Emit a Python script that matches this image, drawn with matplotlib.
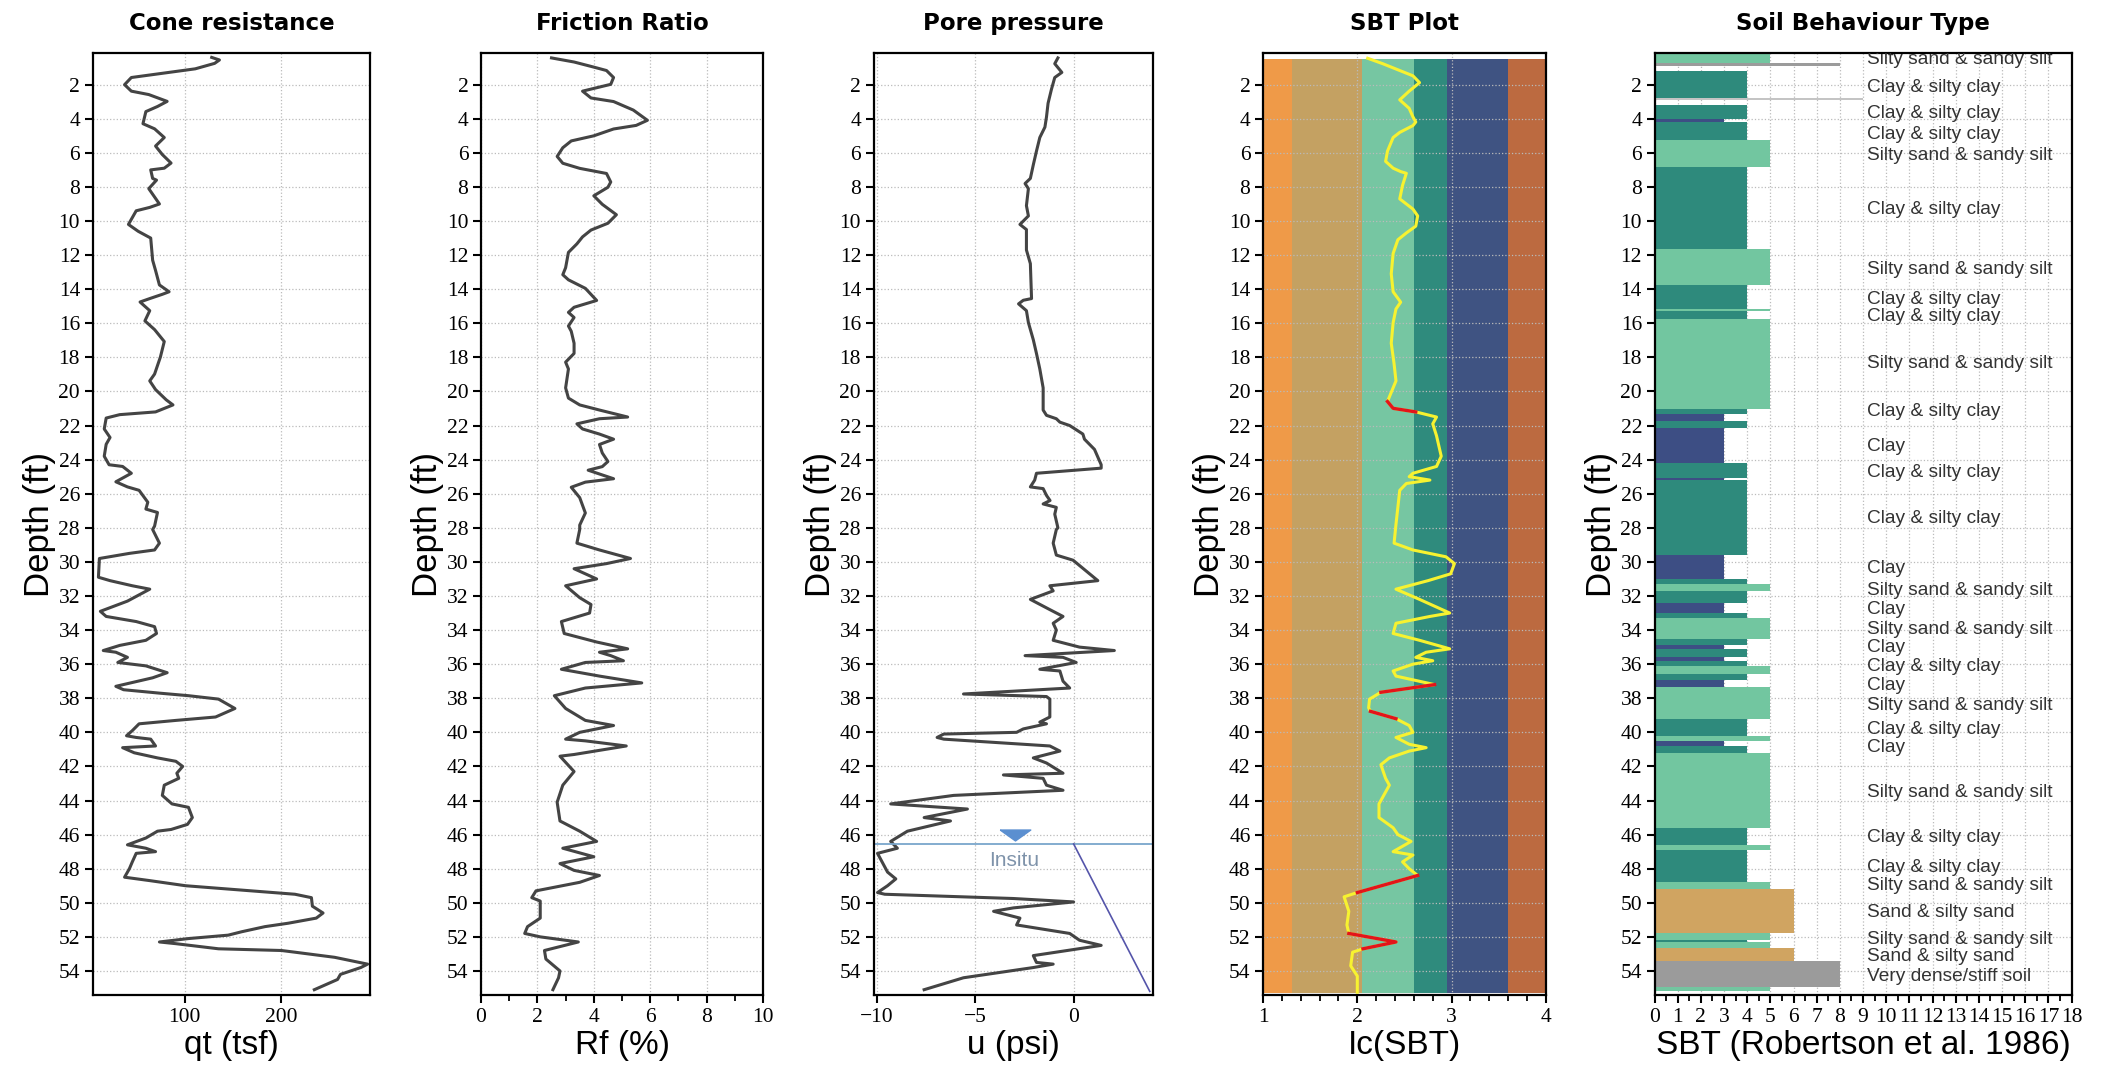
import numpy as np
import matplotlib
matplotlib.use('Agg')
import matplotlib.pyplot as plt
from matplotlib.ticker import MultipleLocator

# Cone resistance qt (tsf)
qt_depth = [0.40, 0.55, 0.75, 1.07, 1.58, 2.00, 2.38, 2.58, 2.98, 3.28, 3.58, 4.29, 4.59,
            5.10, 5.60, 6.10, 6.60, 6.90, 7.00, 7.50, 7.60, 8.10, 9.00, 9.20, 9.40, 9.80,
            10.2, 10.6, 11.0, 12.3, 12.9, 13.75, 14.15, 14.3, 14.55, 14.75, 15.26, 15.86,
            16.37, 17.07, 17.98, 18.98, 19.38, 19.89, 20.49, 20.79, 21.2, 21.36, 21.56,
            22.2, 22.7, 23.1, 23.8, 24.3, 24.4, 24.8, 25.3, 25.6, 25.8, 26.5, 26.9, 27.1,
            27.9, 28.1, 28.9, 29.3, 29.5, 29.8, 30.9, 31.1, 31.4, 31.6, 32.3, 32.9, 33.2,
            33.5, 33.8, 34.2, 34.6, 34.9, 35.2, 35.3, 35.6, 35.9, 36.1, 36.5, 36.8, 37.3,
            37.5, 37.7, 37.85, 38.05, 38.6, 39.1, 39.3, 39.5, 39.9, 40.2, 40.3, 40.4, 40.8,
            40.9, 41.2, 41.5, 41.7, 42.0, 42.4, 42.7, 43.1, 43.7, 44.2, 44.4, 45.0, 45.4,
            45.7, 45.8, 46.2, 46.6, 46.8, 47.0, 47.1, 47.6, 48.0, 48.5, 48.7, 49.0, 49.3,
            49.5, 49.7, 50.2, 50.6, 50.9, 51.2, 51.4, 51.7, 51.9, 52.1, 52.3, 52.4, 52.7,
            52.8, 52.9, 53.2, 53.6, 53.8, 54.2, 54.5, 55.1]
qt_value = [128, 136, 131, 111, 45, 38, 45, 63, 82, 72, 60, 57, 69,
            79, 70, 77, 86, 79, 65, 67, 71, 63, 74, 64, 50, 46,
            42, 52, 65, 67, 70, 74, 84, 77, 64, 54, 64, 59,
            69, 79, 75, 69, 64, 70, 81, 88, 70, 33, 19,
            17, 23, 19, 17, 22, 36, 45, 29, 41, 53, 62, 60, 72,
            69, 67, 74, 69, 43, 12, 11, 23, 46, 64, 41, 13, 19,
            50, 69, 71, 60, 33, 16, 29, 41, 31, 60, 82, 67, 29,
            37, 74, 104, 135, 152, 132, 91, 53, 46, 40, 50, 65, 70,
            36, 48, 72, 91, 98, 92, 94, 79, 77, 87, 104, 108, 103,
            86, 72, 60, 41, 60, 70, 50, 46, 43, 38, 64, 101, 169,
            214, 231, 232, 243, 236, 207, 183, 159, 145, 104, 74, 91, 135,
            200, 214, 255, 289, 282, 261, 258, 234]

# Friction ratio Rf (%)
rf_depth = [0.43, 0.67, 0.97, 1.17, 1.58, 1.98, 2.38, 2.78, 2.99, 3.49, 4.09, 4.39, 4.60,
            5.00, 5.30, 5.70, 6.21, 6.61, 6.91, 7.21, 7.71, 8.02, 8.52, 9.02, 9.63, 10.13,
            10.53, 10.93, 11.34, 11.84, 12.74, 13.15, 13.45, 13.95, 14.66, 14.86, 15.06,
            15.36, 15.66, 16.16, 16.47, 17.17, 17.77, 18.28, 18.68, 19.79, 20.39, 20.79,
            21.09, 21.50, 21.60, 21.90, 22.20, 22.50, 22.80, 23.11, 23.61, 24.11, 24.41,
            24.62, 25.12, 25.32, 25.62, 26.23, 27.13, 27.84, 28.1, 28.9, 29.3, 29.8, 30.1,
            30.4, 31.0, 31.4, 32.1, 32.5, 33.0, 33.5, 34.2, 34.7, 35.1, 35.3, 35.5, 35.8,
            35.9, 36.3, 36.7, 37.1, 37.4, 37.85, 38.6, 39.3, 39.6, 40.0, 40.4, 40.5, 40.8,
            41.3, 41.4, 42.3, 43.1, 44.1, 45.2, 45.8, 46.4, 46.8, 47.3, 47.7, 48.1, 48.4,
            48.8, 49.3, 49.7, 49.9, 50.9, 51.4, 51.8, 52.0, 52.3, 52.8, 53.3, 54.0, 54.4,
            55.1]
rf_value = [2.5, 3.3, 4.0, 4.45, 4.7, 4.6, 3.6, 3.9, 4.7, 5.4, 5.9, 5.5, 4.7,
            4.0, 3.2, 2.9, 2.7, 2.9, 3.5, 4.45, 4.6, 4.5, 4.0, 4.3, 4.8, 4.5,
            3.9, 3.6, 3.4, 3.1, 3.0, 2.9, 3.1, 3.7, 4.1, 3.7, 3.3,
            3.1, 3.3, 3.1, 3.2, 3.3, 3.3, 3.0, 3.1, 3.0, 3.1, 3.5,
            4.2, 5.2, 4.2, 3.4, 3.6, 4.2, 4.7, 4.2, 4.3, 4.5, 4.3,
            3.8, 4.7, 3.7, 3.2, 3.5, 3.7, 3.5, 3.5, 3.4, 4.2, 5.3, 4.45,
            3.3, 4.1, 3.0, 3.5, 3.9, 3.85, 2.85, 2.95, 4.1, 5.2, 4.2, 4.6, 5.05,
            3.7, 2.85, 4.2, 5.7, 3.7, 2.6, 3.0, 3.7, 4.7, 3.5, 3.0, 3.7, 5.15,
            3.3, 2.8, 3.3, 2.9, 2.7, 2.8, 3.5, 4.1, 2.9, 4.0, 2.8, 3.3, 4.2,
            3.5, 1.95, 1.8, 2.1, 2.1, 1.65, 1.55, 2.1, 3.45, 2.25, 2.3, 2.8, 2.75,
            2.55]

# Pore pressure u (psi)
u_depth = [0.43, 0.77, 1.28, 1.58, 2.28, 3.09, 3.89, 4.49, 5.10, 5.90, 6.70, 7.50, 7.80,
           8.10, 9.10, 9.70, 10.2, 10.5, 11.7, 12.5, 14.55, 14.65, 14.86, 15.26, 15.96,
           16.97, 17.77, 18.68, 19.79, 21.09, 21.4, 21.6, 21.8, 22.0, 22.5, 22.8, 23.4,
           24.3, 24.5, 24.8, 25.2, 25.6, 25.7, 26.1, 26.4, 26.6, 26.8, 27.2, 28.0, 28.1,
           28.9, 29.6, 29.9, 31.1, 31.4, 31.7, 32.2, 32.8, 33.2, 33.6, 34.0, 34.6, 35.0,
           35.2, 35.5, 35.6, 35.9, 36.3, 36.4, 37.0, 37.4, 37.75, 37.9, 38.05, 39.1, 39.4,
           39.5, 39.8, 40.0, 40.1, 40.3, 40.4, 40.8, 41.1, 41.5, 41.8, 42.4, 42.5, 42.7,
           43.1, 43.4, 43.7, 44.2, 44.5, 45.0, 45.2, 45.8, 46.4, 46.8, 47.1, 48.2, 48.6,
           49.0, 49.4, 49.5, 49.75, 49.95, 50.3, 50.5, 50.9, 51.3, 51.8, 52.2, 52.5, 53.1,
           53.5, 53.6, 53.8, 54.4, 55.1]
u_value = [-0.8, -0.96, -0.6, -0.96, -1.13, -1.3, -1.38, -1.46, -1.72, -1.89, -2.05, -2.2, -2.47,
           -2.3, -2.4, -2.3, -2.73, -2.4, -2.4, -2.2, -2.14, -2.56, -2.8, -2.4, -2.3,
           -2.05, -1.89, -1.72, -1.55, -1.55, -1.38, -0.88, -0.7, -0.2, 0.47, 0.55, 1.06,
           1.4, 1.4, -1.89, -1.98, -2.2, -1.55, -1.38, -1.2, -1.55, -0.88, -0.96, -0.8, -0.88,
           -1.04, -0.88, -0.03, 1.23, -1.21, -1.04, -2.2, -1.21, -0.54, -1.04, -0.88, -1.04, 0.3,
           2.07, -2.47, -0.54, 0.13, -1.72, -0.7, -0.54, -0.2, -5.6, -1.38, -1.21, -1.21, -1.72,
           -1.38, -2.56, -2.9, -6.6, -6.94, -6.6, -1.21, -0.7, -2.05, -1.38, -0.54, -3.57, -1.55,
           -1.38, -0.54, -6.1, -9.3, -5.4, -7.6, -6.26, -8.45, -9.3, -8.96, -9.97, -9.46, -9.04,
           -9.46, -9.97, -9.6, -3.06, 0.0, -3.06, -4.07, -2.73, -2.9, -0.2, 0.3, 1.4, -2.05,
           -1.89, -1.04, -2.05, -5.6, -7.6]

# in-situ water table and hydrostatic line
gwt_depth = 46.55
hydro_u = [0.0, 3.87]
hydro_depth = [46.55, 55.2]

# Soil behaviour type index Ic
ic_depth = [0.45, 0.77, 1.48, 1.88, 2.38, 2.89, 3.39, 3.89, 4.19, 4.4, 4.8, 5.1, 5.9, 6.5,
            6.9, 7.1, 7.2, 7.9, 8.7, 9.3, 9.7, 10.3, 10.7, 11.1, 11.9, 13.1, 14.15, 14.76,
            15.16, 15.96, 17.17, 18.38, 19.38, 20.59, 20.99, 21.2, 21.5, 21.9, 22.6, 23.8,
            24.4, 24.8, 25.0, 25.2, 25.4, 25.8, 26.8, 27.8, 28.9, 29.3, 29.7, 30.1, 30.7,
            31.1, 31.6, 32.2, 33.0, 33.2, 33.6, 34.2, 34.6, 35.1, 35.3, 35.6, 35.8, 36.0,
            36.4, 36.7, 37.2, 37.65, 38.05, 38.56, 38.77, 39.2, 39.6, 40.0, 40.3, 40.7, 40.9,
            41.1, 41.5, 41.9, 42.7, 43.1, 44.2, 45.0, 45.6, 46.0, 46.4, 47.0, 47.2, 47.6,
            48.0, 48.4, 49.4, 49.65, 50.5, 51.3, 51.8, 52.3, 52.7, 52.9, 53.7, 54.3, 55.25]
ic_value = [2.11, 2.27, 2.59, 2.66, 2.55, 2.45, 2.55, 2.59, 2.62, 2.59, 2.45, 2.38, 2.32, 2.30,
            2.38, 2.46, 2.52, 2.48, 2.45, 2.59, 2.64, 2.62, 2.52, 2.43, 2.38, 2.36, 2.38, 2.46,
            2.41, 2.38, 2.36, 2.39, 2.41, 2.32, 2.38, 2.62, 2.84, 2.80, 2.84, 2.89,
            2.84, 2.59, 2.55, 2.77, 2.52, 2.45, 2.43, 2.41, 2.39, 2.59, 2.94, 3.03, 2.99,
            2.75, 2.41, 2.66, 2.98, 2.77, 2.41, 2.38, 2.66, 2.98, 2.73, 2.62, 2.80, 2.59,
            2.38, 2.41, 2.82, 2.25, 2.13, 2.12, 2.14, 2.41, 2.55, 2.59, 2.41, 2.55, 2.73,
            2.55, 2.34, 2.25, 2.30, 2.34, 2.23, 2.23, 2.38, 2.43, 2.57, 2.38, 2.59, 2.48,
            2.55, 2.64, 2.00, 1.86, 1.91, 1.89, 1.91, 2.41, 2.06, 1.95, 1.93, 2.00, 2.00]
# depth intervals drawn in red on the Ic trace
red_ranges = [(20.59, 21.2), (37.2, 37.65), (38.77, 39.2), (48.4, 49.4), (51.8, 52.7)]

# Robertson Ic zone boundaries and colours
ic_bounds = [1.0, 1.31, 2.05, 2.60, 2.95, 3.60, 4.0]
ic_colors = ['#EF9A48', '#C4A162', '#76C6A2', '#2F8B7D', '#3F5382', '#BC6A40']
ic_top, ic_bottom = 0.47, 55.28

# SBT zones (Robertson et al. 1986), layer by layer
sbt_top = [0.20, 0.72, 1.17, 2.78, 3.19, 3.99, 4.19, 5.26, 6.81, 11.64, 13.75, 15.16, 15.30,
           15.76, 21.0, 21.3, 21.76, 22.16, 24.21, 25.1, 25.2, 29.6, 31.0, 31.3, 31.7, 32.4,
           33.0, 33.3, 34.55, 34.9, 35.1, 35.6, 35.8, 36.1, 36.6, 36.9, 37.35, 39.2, 40.2,
           40.5, 40.8, 41.2, 45.6, 46.6, 46.9, 48.8, 49.2, 51.8, 52.2, 52.3, 52.65, 53.4,
           54.95]
sbt_bot = [0.72, 0.91, 2.78, 2.89, 3.99, 4.19, 5.26, 6.81, 11.64, 13.75, 15.16, 15.30, 15.76,
           21.0, 21.3, 21.76, 22.16, 24.21, 25.1, 25.2, 29.6, 31.0, 31.3, 31.7, 32.4, 33.0,
           33.3, 34.55, 34.9, 35.1, 35.6, 35.8, 36.1, 36.6, 36.9, 37.35, 39.2, 40.2, 40.5,
           40.8, 41.2, 45.6, 46.6, 46.9, 48.8, 49.2, 51.8, 52.2, 52.3, 52.65, 53.4, 54.95,
           55.2]
sbt_zone = [5, 8, 4, 9, 4, 3, 4, 5, 4, 5, 4, 5, 4,
            5, 4, 3, 4, 3, 4, 3, 4, 3, 4, 5, 4, 3,
            4, 5, 4, 3, 4, 3, 4, 5, 4, 3, 5, 4, 5,
            3, 4, 5, 4, 5, 4, 5, 6, 5, 4, 5, 6, 8,
            5]
zone_colors = {3: '#3D4E84', 4: '#2E8A7C', 5: '#72C6A0', 6: '#D0A461', 8: '#9B9B9B', 9: '#C4C4C4'}

label_depth = [0.55, 2.18, 3.69, 4.90, 6.14, 9.32, 12.85, 14.6, 15.6, 18.34, 21.15, 23.2,
               24.78, 27.43, 30.37, 31.65, 32.8, 33.99, 35.04, 36.12, 37.24, 38.42, 39.84,
               40.9, 43.55, 46.19, 47.92, 49.0, 50.56, 52.15, 53.14, 54.32]
label_text = ['Silty sand & sandy silt', 'Clay & silty clay', 'Clay & silty clay',
              'Clay & silty clay', 'Silty sand & sandy silt', 'Clay & silty clay',
              'Silty sand & sandy silt', 'Clay & silty clay', 'Clay & silty clay',
              'Silty sand & sandy silt', 'Clay & silty clay', 'Clay', 'Clay & silty clay',
              'Clay & silty clay', 'Clay', 'Silty sand & sandy silt', 'Clay',
              'Silty sand & sandy silt', 'Clay', 'Clay & silty clay', 'Clay',
              'Silty sand & sandy silt', 'Clay & silty clay', 'Clay', 'Silty sand & sandy silt',
              'Clay & silty clay', 'Clay & silty clay', 'Silty sand & sandy silt',
              'Sand & silty sand', 'Silty sand & sandy silt', 'Sand & silty sand',
              'Very dense/stiff soil']

depth_ticks = np.arange(2, 55, 2)
ylims = (55.44, 0.17)

TICK_FONT = 'Liberation Serif'
LABEL_FONT = 'Liberation Sans'


def style_axis(ax, title, xlabel):
    ax.set_ylim(ylims)
    ax.set_yticks(depth_ticks)
    ax.set_title(title, fontsize=16.5, fontweight='bold', family='DejaVu Sans', pad=17)
    ax.set_xlabel(xlabel, fontsize=24, family=LABEL_FONT, labelpad=2)
    ax.set_ylabel('Depth (ft)', fontsize=25, family=LABEL_FONT, labelpad=2)
    ax.tick_params(which='major', direction='out', length=6, width=1.5, labelsize=15.5, pad=3)
    ax.tick_params(which='minor', direction='out', length=4, width=1.3)
    for lab in ax.get_xticklabels() + ax.get_yticklabels():
        lab.set_family(TICK_FONT)
    for sp in ax.spines.values():
        sp.set_linewidth(1.6)
    ax.grid(True, which='major', color='#bbbbbb', linestyle=':', linewidth=0.9)


def main():
    fig = plt.figure(figsize=(21.05, 10.74), dpi=100)
    y0, h = 0.0731, 0.8771

    # Cone resistance
    ax1 = fig.add_axes([0.0440, y0, 0.1320, h])
    ax1.plot(qt_value, qt_depth, color='#444444', lw=2.2)
    ax1.set_xlim(5, 292)
    ax1.set_xticks([100, 200])
    style_axis(ax1, 'Cone resistance', 'qt (tsf)')

    # Friction ratio
    ax2 = fig.add_axes([0.2285, y0, 0.1340, h])
    ax2.plot(rf_value, rf_depth, color='#444444', lw=2.2)
    ax2.set_xlim(0, 10)
    ax2.set_xticks(np.arange(0, 11, 2))
    ax2.xaxis.set_minor_locator(MultipleLocator(1))
    style_axis(ax2, 'Friction Ratio', 'Rf (%)')

    # Pore pressure
    ax3 = fig.add_axes([0.4150, y0, 0.1328, h])
    ax3.plot(u_value, u_depth, color='#444444', lw=2.2)
    ax3.axhline(gwt_depth, color='#79A6CC', lw=1.3)
    ax3.plot(hydro_u, hydro_depth, color='#5555AA', lw=1.2)
    # flattened water-table triangle
    tri = [(-1.4, 0.5), (1.4, 0.5), (0.0, -0.5), (-1.4, 0.5)]
    ax3.plot(-3.0, gwt_depth - 0.55, marker=tri, ms=22, color='#5B8FD0', mec='#5B8FD0')
    ax3.text(-3.0, gwt_depth + 0.95, 'Insitu', color='#7F93AA', fontsize=15,
             family=LABEL_FONT, ha='center', va='center')
    ax3.set_xlim(-10.17, 4.04)
    ax3.set_xticks([-10, -5, 0])
    style_axis(ax3, 'Pore pressure', 'u (psi)')

    # SBT plot (Ic)
    ax4 = fig.add_axes([0.6000, y0, 0.1344, h])
    for i in range(len(ic_colors)):
        ax4.fill_betweenx([ic_top, ic_bottom], ic_bounds[i], ic_bounds[i + 1],
                          color=ic_colors[i], lw=0, zorder=1)
    d = np.array(ic_depth)
    ic = np.array(ic_value)
    ax4.plot(ic, d, color='#F7F230', lw=2.2, zorder=3)
    for lo, hi in red_ranges:
        m = (d >= lo) & (d <= hi)
        ax4.plot(ic[m], d[m], color='#E3141B', lw=2.4, zorder=4)
    ax4.set_xlim(1, 4)
    ax4.set_xticks([1, 2, 3, 4])
    ax4.xaxis.set_minor_locator(MultipleLocator(0.2))
    style_axis(ax4, 'SBT Plot', 'Ic(SBT)')

    # Soil behaviour type
    ax5 = fig.add_axes([0.7860, y0, 0.1981, h])
    for top, bot, z in zip(sbt_top, sbt_bot, sbt_zone):
        ax5.barh((top + bot) / 2, z, height=bot - top, left=0,
                 color=zone_colors[z], lw=0)
    for dep, txt in zip(label_depth, label_text):
        ax5.text(9.15, dep, txt, fontsize=13.8, family=LABEL_FONT, color='#333333',
                 ha='left', va='center', clip_on=True)
    ax5.set_xlim(0, 18)
    ax5.set_xticks(np.arange(0, 19, 1))
    ax5.xaxis.set_minor_locator(MultipleLocator(0.5))
    ax5.set_axisbelow(True)
    style_axis(ax5, 'Soil Behaviour Type', 'SBT (Robertson et al. 1986)')

    fig.savefig('out.png', dpi=100)


if __name__ == '__main__':
    main()
